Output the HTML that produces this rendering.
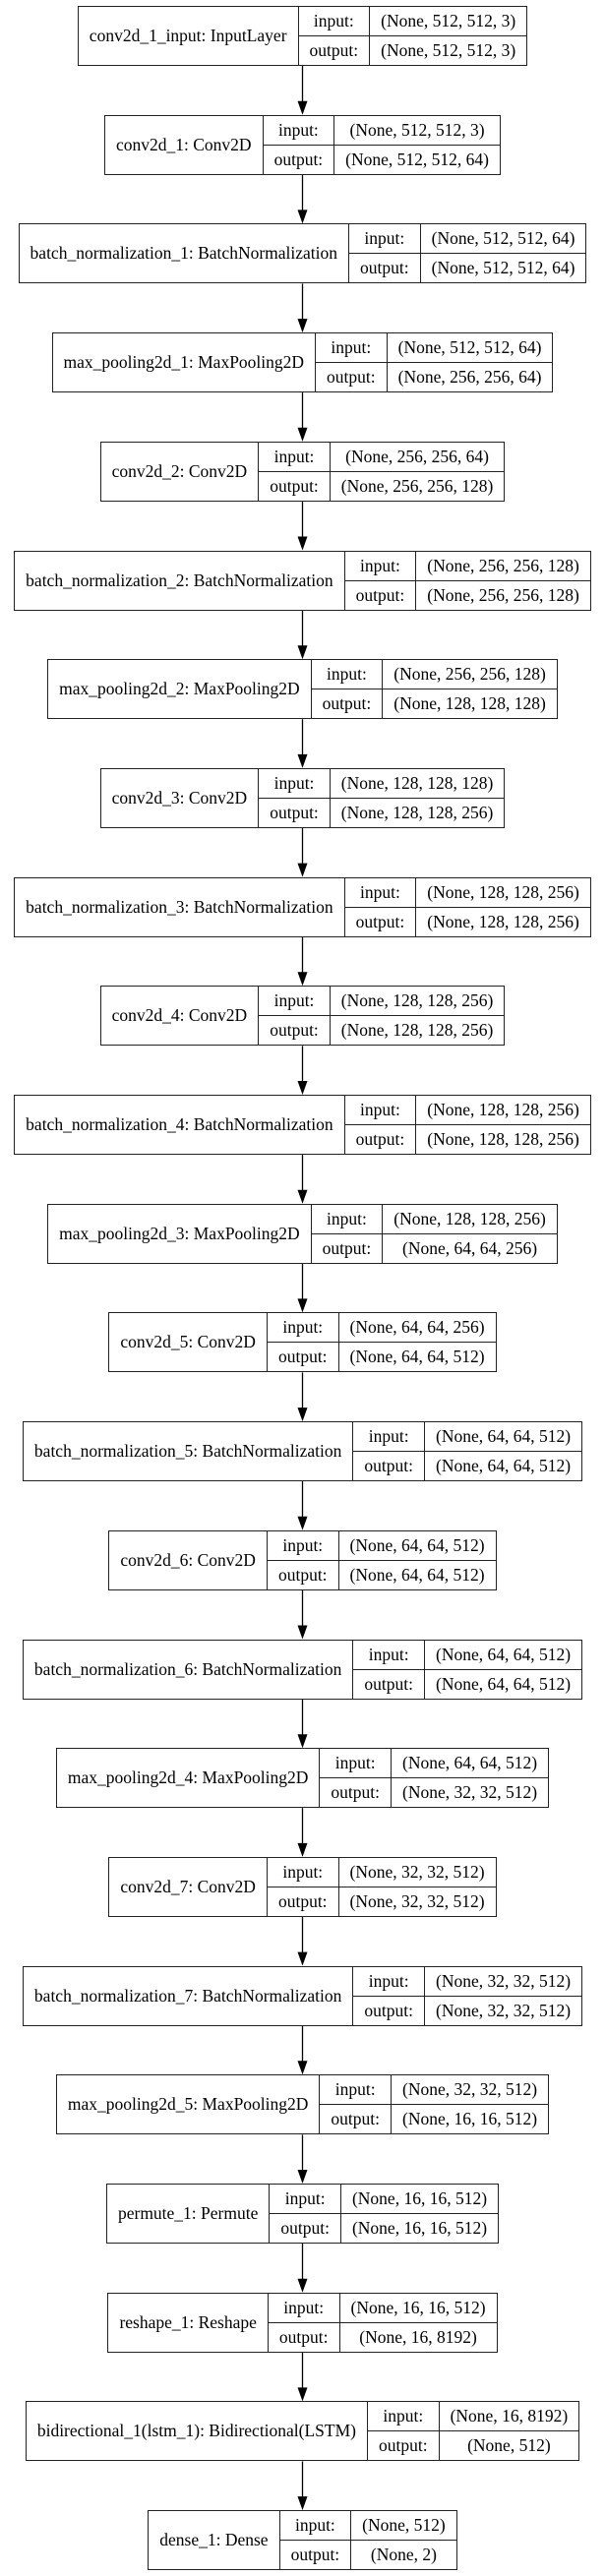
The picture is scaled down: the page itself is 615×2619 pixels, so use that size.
<!DOCTYPE html>
<html><head><meta charset="utf-8">
<style>
html,body{margin:0;padding:0;background:#fff;}
body{width:615px;height:2619px;position:relative;overflow:hidden;font-family:"Liberation Serif",serif;font-size:17.5px;color:#000;}
.row{position:absolute;left:0;width:615px;display:flex;justify-content:center;}
table{border-collapse:collapse;height:61px;}
td{border:1.3px solid #222;padding:0 11px;white-space:nowrap;text-align:center;height:29px;line-height:29px;}
svg{position:absolute;left:0;top:0;}
</style></head><body>
<svg width="615" height="2619" id="s"></svg>
<div id="c"></div>
<script>
var L=[
["conv2d_1_input: InputLayer","(None, 512, 512, 3)","(None, 512, 512, 3)"],
["conv2d_1: Conv2D","(None, 512, 512, 3)","(None, 512, 512, 64)"],
["batch_normalization_1: BatchNormalization","(None, 512, 512, 64)","(None, 512, 512, 64)"],
["max_pooling2d_1: MaxPooling2D","(None, 512, 512, 64)","(None, 256, 256, 64)"],
["conv2d_2: Conv2D","(None, 256, 256, 64)","(None, 256, 256, 128)"],
["batch_normalization_2: BatchNormalization","(None, 256, 256, 128)","(None, 256, 256, 128)"],
["max_pooling2d_2: MaxPooling2D","(None, 256, 256, 128)","(None, 128, 128, 128)"],
["conv2d_3: Conv2D","(None, 128, 128, 128)","(None, 128, 128, 256)"],
["batch_normalization_3: BatchNormalization","(None, 128, 128, 256)","(None, 128, 128, 256)"],
["conv2d_4: Conv2D","(None, 128, 128, 256)","(None, 128, 128, 256)"],
["batch_normalization_4: BatchNormalization","(None, 128, 128, 256)","(None, 128, 128, 256)"],
["max_pooling2d_3: MaxPooling2D","(None, 128, 128, 256)","(None, 64, 64, 256)"],
["conv2d_5: Conv2D","(None, 64, 64, 256)","(None, 64, 64, 512)"],
["batch_normalization_5: BatchNormalization","(None, 64, 64, 512)","(None, 64, 64, 512)"],
["conv2d_6: Conv2D","(None, 64, 64, 512)","(None, 64, 64, 512)"],
["batch_normalization_6: BatchNormalization","(None, 64, 64, 512)","(None, 64, 64, 512)"],
["max_pooling2d_4: MaxPooling2D","(None, 64, 64, 512)","(None, 32, 32, 512)"],
["conv2d_7: Conv2D","(None, 32, 32, 512)","(None, 32, 32, 512)"],
["batch_normalization_7: BatchNormalization","(None, 32, 32, 512)","(None, 32, 32, 512)"],
["max_pooling2d_5: MaxPooling2D","(None, 32, 32, 512)","(None, 16, 16, 512)"],
["permute_1: Permute","(None, 16, 16, 512)","(None, 16, 16, 512)"],
["reshape_1: Reshape","(None, 16, 16, 512)","(None, 16, 8192)"],
["bidirectional_1(lstm_1): Bidirectional(LSTM)","(None, 16, 8192)","(None, 512)"],
["dense_1: Dense","(None, 512)","(None, 2)"]];
var P=110.7,T=6,H=61,h="",g="";
for(var i=0;i<L.length;i++){
 var y=T+i*P;
 h+='<div class="row" style="top:'+y.toFixed(1)+'px"><table><tr><td rowspan="2">'+L[i][0]+'</td><td>input:</td><td>'+L[i][1]+'</td></tr><tr><td>output:</td><td>'+L[i][2]+'</td></tr></table></div>';
 if(i<L.length-1){var y1=y+H,y2=T+(i+1)*P;
 g+='<line x1="307.5" y1="'+y1+'" x2="307.5" y2="'+(y2-13)+'" stroke="#000" stroke-width="1.3"/><polygon points="302.5,'+(y2-14)+' 312.5,'+(y2-14)+' 307.5,'+y2+'" fill="#000"/>';}
}
document.getElementById("c").innerHTML=h;
document.getElementById("s").innerHTML=g;
</script>
</body></html>
